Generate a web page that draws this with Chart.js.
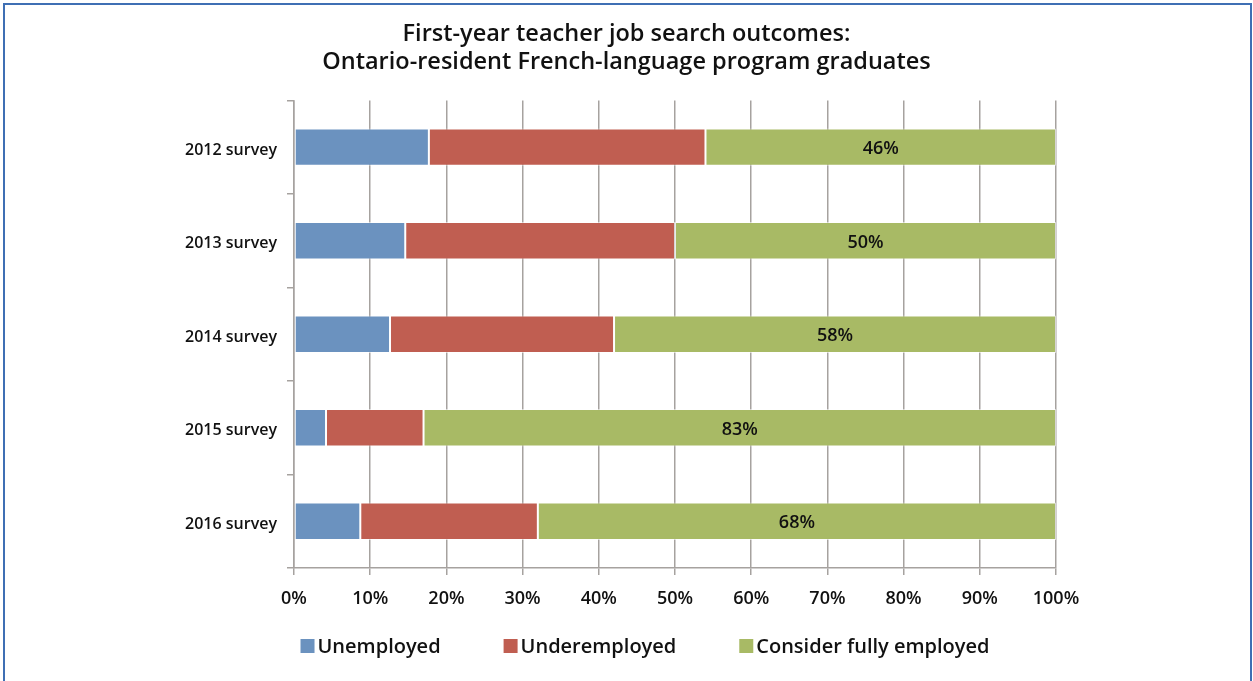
<!DOCTYPE html>
<html>
<head>
<meta charset="utf-8">
<title>First-year teacher job search outcomes</title>
<script src="https://cdn.jsdelivr.net/npm/chart.js@4/dist/chart.umd.min.js"></script>
<style>
  html, body { margin: 0; padding: 0; background: #fff; overflow: hidden; }
  #wrap { position: relative; width: 1253px; height: 681px; }
  #frame {
    position: absolute; left: 3px; top: 3px; width: 1245px; height: 700px;
    border: 2px solid #3f6fb4; border-bottom: none;
  }
  canvas { position: absolute; left: 0; top: 0; }
</style>
</head>
<body>
<div id="wrap">
  <div id="frame"></div>
  <canvas id="chart" width="1253" height="681"></canvas>
</div>
<script>
// Umfragejahre
const surveys = ["2012 survey", "2013 survey", "2014 survey", "2015 survey", "2016 survey"];

// Anteile in Prozent
const unemployed    = [17.7, 14.6, 12.6, 4.2, 8.7];
const underemployed = [36.3, 35.4, 29.4, 12.8, 23.3];
const fullyEmployed = [46, 50, 58, 83, 68];

const seriesNames = ["Unemployed", "Underemployed", "Consider fully employed"];
const seriesColors = ["#6b92bf", "#c05e51", "#a8ba65"];

const xTicks = [0, 10, 20, 30, 40, 50, 60, 70, 80, 90, 100];

const FONT = "'Open Sans', 'Liberation Sans', sans-serif";
const GRID = "#a6a29f";

// Prozentwerte mittig in die grünen Balken schreiben
const valueLabels = {
  id: "valueLabels",
  afterDatasetsDraw(chart) {
    const ctx = chart.ctx;
    const meta = chart.getDatasetMeta(2);
    ctx.save();
    ctx.font = "600 18px " + FONT;
    ctx.fillStyle = "#111";
    ctx.textAlign = "center";
    ctx.textBaseline = "middle";
    meta.data.forEach((bar, i) => {
      const v = chart.data.datasets[2].data[i];
      ctx.fillText(v + "%", (bar.x + bar.base) / 2, bar.y + 2);
    });
    ctx.restore();
  }
};

// eigene Legende unten, Einträge mit festem Abstand
const bottomLegend = {
  id: "bottomLegend",
  afterDraw(chart) {
    const ctx = chart.ctx;
    const box = 14, textGap = 3, itemGap = 63, cy = 647, cx = 645;
    ctx.save();
    ctx.font = "600 20px " + FONT;
    ctx.textBaseline = "middle";
    const widths = seriesNames.map(n => box + textGap + ctx.measureText(n).width);
    const total = widths.reduce((a, b) => a + b, 0) + itemGap * (widths.length - 1);
    let x = cx - total / 2;
    seriesNames.forEach((name, i) => {
      ctx.fillStyle = seriesColors[i];
      ctx.fillRect(x, cy - box / 2 - 1, box, box);
      ctx.fillStyle = "#111";
      ctx.fillText(name, x + box + textGap, cy);
      x += widths[i] + itemGap;
    });
    ctx.restore();
  }
};

const datasets = [unemployed, underemployed, fullyEmployed].map((values, i) => ({
  label: seriesNames[i],
  data: values,
  backgroundColor: seriesColors[i],
  borderColor: "rgba(255,255,255,0.55)",
  borderWidth: 1,
  borderSkipped: false,
  barPercentage: 0.4,
  categoryPercentage: 1.0
}));

new Chart(document.getElementById("chart"), {
  type: "bar",
  data: { labels: surveys, datasets: datasets },
  plugins: [valueLabels, bottomLegend],
  options: {
    indexAxis: "y",
    responsive: false,
    animation: false,
    layout: { padding: 0 },
    plugins: {
      legend: { display: false },
      tooltip: { enabled: false },
      title: {
        display: true,
        text: ["First-year teacher job search outcomes:", "Ontario-resident French-language program graduates"],
        color: "#111",
        font: { family: FONT, size: 23.5, weight: "600", lineHeight: 1.2 },
        padding: { top: 20, bottom: 24 }
      }
    },
    scales: {
      x: {
        stacked: true,
        min: 0,
        max: 100,
        afterBuildTicks: scale => { scale.ticks = xTicks.map(v => ({ value: v })); },
        afterFit: scale => { scale.height = 113; },
        grid: { color: GRID, lineWidth: 1.5, tickLength: 7, drawTicks: true },
        border: { color: GRID, width: 1.5 },
        ticks: {
          padding: 13,
          color: "#111",
          font: { family: FONT, size: 18, weight: "600" },
          callback: v => v + "%"
        }
      },
      y: {
        stacked: true,
        afterFit: scale => { scale.width = 294; },
        grid: { drawOnChartArea: false, color: GRID, lineWidth: 1.5, tickLength: 7, offset: true },
        border: { color: GRID, width: 1.5 },
        ticks: {
          padding: 10,
          labelOffset: 3,
          color: "#111",
          font: { family: FONT, size: 16, weight: "600" }
        }
      },
      // leerer Rand rechts neben dem Diagramm
      rightSpace: {
        type: "category",
        position: "right",
        labels: surveys,
        afterFit: scale => { scale.width = 197; },
        grid: { display: false },
        border: { display: false },
        ticks: { display: false }
      }
    }
  }
});
</script>
</body>
</html>
